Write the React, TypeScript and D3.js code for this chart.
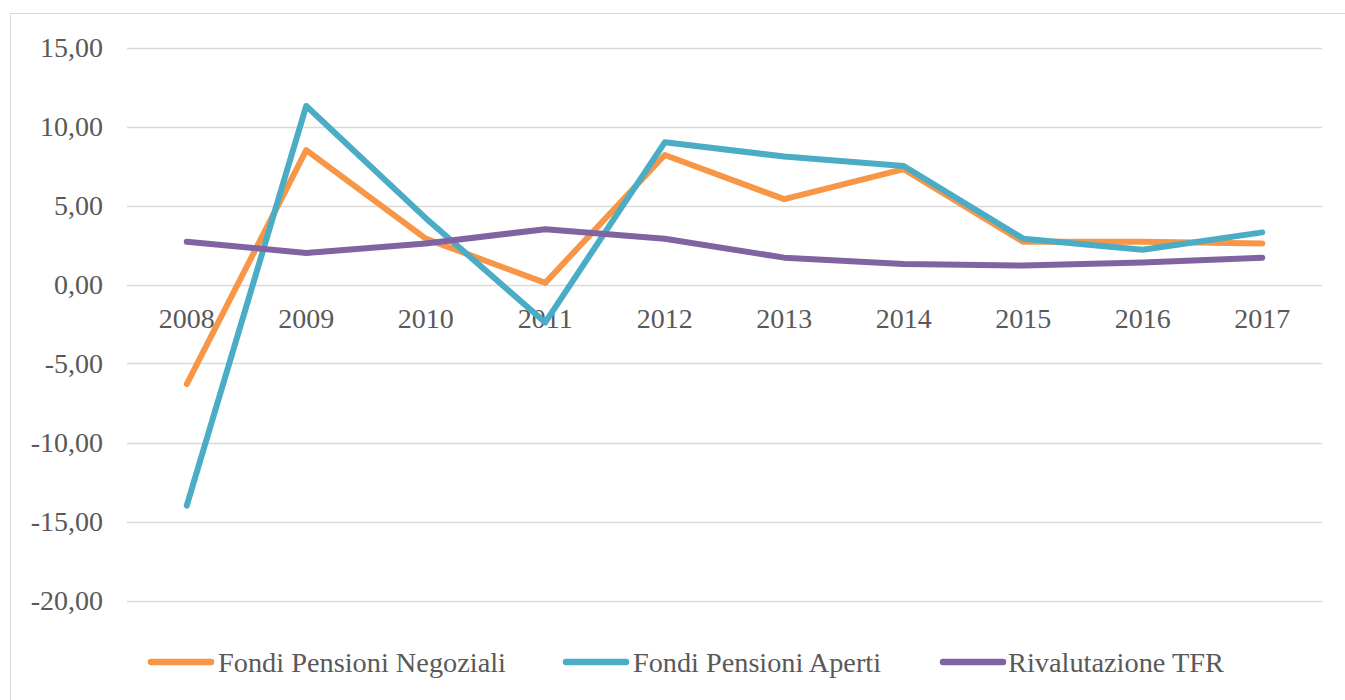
import React from "react";
import * as d3 from "d3";

const years = ["2008", "2009", "2010", "2011", "2012", "2013", "2014", "2015", "2016", "2017"];
const negoziali = [-6.3, 8.5, 2.9, 0.1, 8.2, 5.4, 7.3, 2.7, 2.7, 2.6];
const aperti = [-14.0, 11.3, 4.2, -2.4, 9.0, 8.1, 7.5, 2.9, 2.2, 3.3];
const tfr = [2.7, 2.0, 2.6, 3.5, 2.9, 1.7, 1.3, 1.2, 1.4, 1.7];
const yTicks = [15, 10, 5, 0, -5, -10, -15, -20];

const seriesNames = ["Fondi Pensioni Negoziali", "Fondi Pensioni Aperti", "Rivalutazione TFR"];
const seriesColors = ["#F79646", "#4BACC6", "#8064A2"];
const seriesData = [negoziali, aperti, tfr];

const W = 1345;
const H = 700;
const FONT = '"Liberation Serif", Tinos, "Nimbus Roman", "DejaVu Serif", serif';
const TEXT = "#595959";

export default function App() {
  const x = d3.scaleBand<string>().domain(years).range([127, 1322]);
  const y = d3.scaleLinear().domain([-20, 15]).range([600.5, 47.5]);
  const line = d3
    .line<number>()
    .x((_, i) => (x(years[i]) as number) + x.bandwidth() / 2)
    .y((d) => y(d));

  const legendLineX = [151, 566, 943];
  const legendTextX = [218, 633, 1008];
  const legendTextW = [288, 248, 216];
  const legendY = 662;
  const ts = { fontFamily: FONT, fontSize: 28, fill: TEXT } as React.CSSProperties;

  return (
    <div style={{ position: "absolute", left: 0, top: 0 }}>
      <svg width={W} height={H} style={{ display: "block", background: "#fff" }}>
        <rect x={10.5} y={13.5} width={W + 10} height={H + 10} fill="#fff" stroke="#D9D9D9" strokeWidth={1} />
        {yTicks.map((t) => (
          <g key={t}>
            <line x1={127} x2={1322} y1={Math.round(y(t)) + 0.5} y2={Math.round(y(t)) + 0.5} stroke="#D9D9D9" strokeWidth={1.3} />
            <text x={103} y={y(t)} textAnchor="end" dominantBaseline="central" style={ts}>
              {d3.format(".2f")(t).replace("−", "-").replace(".", ",")}
            </text>
          </g>
        ))}
        {years.map((yr) => (
          <text key={yr} x={(x(yr) as number) + x.bandwidth() / 2} y={328} textAnchor="middle" style={ts}>
            {yr}
          </text>
        ))}
        {seriesData.map((s, i) => (
          <path
            key={seriesNames[i]}
            d={line(s) || ""}
            fill="none"
            stroke={seriesColors[i]}
            strokeWidth={6}
            strokeLinejoin="round"
            strokeLinecap="round"
          />
        ))}
        {seriesNames.map((n, i) => (
          <g key={n}>
            <line
              x1={legendLineX[i]}
              x2={legendLineX[i] + 60}
              y1={legendY}
              y2={legendY}
              stroke={seriesColors[i]}
              strokeWidth={6.5}
              strokeLinecap="round"
            />
            <text
              x={legendTextX[i]}
              y={legendY}
              dominantBaseline="central"
              textLength={legendTextW[i]}
              lengthAdjust="spacingAndGlyphs"
              style={ts}
            >
              {n}
            </text>
          </g>
        ))}
      </svg>
    </div>
  );
}
